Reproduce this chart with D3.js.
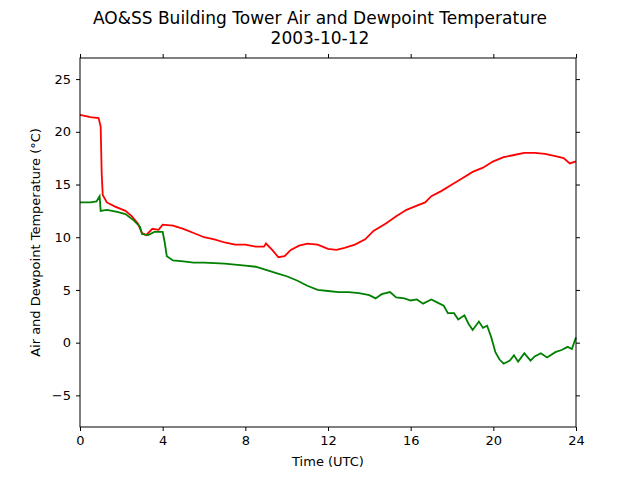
<!DOCTYPE html>
<html><head><meta charset="utf-8">
<script src="https://cdn.jsdelivr.net/npm/d3@7"></script>
<style>body{margin:0;background:#fff}text{font-family:"DejaVu Sans",sans-serif}</style>
</head><body><svg id="chart" width="640" height="480"></svg>
<script>
const airHours = [0,0.5,0.9,1.0,1.05,1.1,1.3,1.7,2.2,2.5,2.8,3.0,3.2,3.5,3.8,4.0,4.5,5.0,5.5,6.0,6.5,7.0,7.5,8.0,8.5,8.9,9.0,9.3,9.6,9.9,10.2,10.6,11.0,11.5,12.0,12.4,12.8,13.3,13.8,14.2,14.8,15.3,15.8,16.3,16.7,17.0,17.5,18.0,18.5,19.0,19.5,20.0,20.5,21.0,21.5,22.0,22.5,23.0,23.4,23.7,24];
const airTemp  = [21.6,21.4,21.3,20.5,16,14,13.3,12.9,12.5,12,11.3,10.4,10.2,10.8,10.7,11.2,11.1,10.8,10.4,10.0,9.8,9.5,9.3,9.3,9.1,9.1,9.4,8.8,8.1,8.2,8.8,9.2,9.4,9.3,8.9,8.8,9.0,9.3,9.8,10.6,11.3,12.0,12.6,13.0,13.3,13.9,14.4,15.0,15.6,16.2,16.6,17.2,17.6,17.8,18.0,18.0,17.9,17.7,17.5,17.0,17.2];
const dewHours = [0,0.5,0.8,0.95,1.0,1.3,1.8,2.2,2.6,2.9,3.0,3.3,3.6,4.0,4.1,4.2,4.5,5.0,5.5,6.0,7.0,7.5,8.0,8.5,9.0,9.5,10.0,10.5,11.0,11.5,12,12.5,13,13.5,14,14.3,14.6,15,15.3,15.7,16.0,16.3,16.6,17.0,17.3,17.6,17.8,18.1,18.3,18.6,18.8,19.0,19.3,19.5,19.7,19.9,20.1,20.3,20.5,20.8,21.0,21.2,21.5,21.8,22.0,22.3,22.6,23,23.3,23.6,23.8,24];
const dewTemp  = [13.3,13.3,13.4,13.9,12.5,12.6,12.4,12.2,11.6,11.0,10.3,10.2,10.5,10.5,9.5,8.2,7.8,7.7,7.6,7.6,7.5,7.4,7.3,7.2,6.9,6.6,6.3,5.9,5.4,5.0,4.9,4.8,4.8,4.7,4.5,4.2,4.6,4.8,4.3,4.2,4.0,4.1,3.7,4.1,3.8,3.5,2.8,2.8,2.2,2.6,1.8,1.2,2.0,1.4,1.6,0.5,-0.9,-1.6,-2.0,-1.7,-1.2,-1.8,-1.0,-1.7,-1.3,-1.0,-1.4,-0.9,-0.7,-0.4,-0.6,0.5];
const xTicks = [0,4,8,12,16,20,24];
const yTicks = [-5,0,5,10,15,20,25];

const margin = {top: 58, right: 64, bottom: 53, left: 80};
const width = 640 - margin.left - margin.right;
const height = 480 - margin.top - margin.bottom;

const svg = d3.select('#chart');
const chart = svg.append('g').attr('transform', `translate(${margin.left},${margin.top})`);

const x = d3.scaleLinear().domain([0, 24]).range([0, width]);
const y = d3.scaleLinear().domain([-8, 27]).range([height, 0]);

const fmt = d3.format('d');
const style = g => {
  g.select('.domain').remove();
  g.selectAll('text').attr('font-size', 13).attr('fill', '#000').style('font-family', '"DejaVu Sans",sans-serif');
  g.selectAll('line').attr('stroke', '#000');
};
chart.append('g').attr('transform', `translate(0,${height})`)
  .call(d3.axisBottom(x).tickValues(xTicks).tickFormat(fmt).tickSize(4).tickPadding(5)).call(style);
chart.append('g').call(d3.axisTop(x).tickValues(xTicks).tickFormat('').tickSize(4)).call(style);
chart.append('g')
  .call(d3.axisLeft(y).tickValues(yTicks).tickFormat(d => d < 0 ? '\u2212' + Math.abs(d) : d).tickSize(4).tickPadding(5)).call(style);
chart.append('g').attr('transform', `translate(${width},0)`)
  .call(d3.axisRight(y).tickValues(yTicks).tickFormat('').tickSize(4)).call(style);

const line = d3.line().x(d => x(d[0])).y(d => y(d[1]));
chart.append('path').datum(airHours.map((h, i) => [h, airTemp[i]]))
  .attr('d', line).attr('fill', 'none').attr('stroke', 'red').attr('stroke-width', 1.8);
chart.append('path').datum(dewHours.map((h, i) => [h, dewTemp[i]]))
  .attr('d', line).attr('fill', 'none').attr('stroke', 'green').attr('stroke-width', 1.8);

chart.append('rect').attr('width', width).attr('height', height)
  .attr('fill', 'none').attr('stroke', '#000').attr('stroke-width', 1);

svg.append('text').attr('x', 320).attr('y', 24).attr('text-anchor', 'middle').attr('font-size', 17)
  .text('AO&SS Building Tower Air and Dewpoint Temperature');
svg.append('text').attr('x', 320).attr('y', 44).attr('text-anchor', 'middle').attr('font-size', 17)
  .text('2003-10-12');
svg.append('text').attr('x', margin.left + width / 2).attr('y', 466).attr('text-anchor', 'middle').attr('font-size', 13)
  .text('Time (UTC)');
svg.append('text').attr('transform', `translate(40,${margin.top + height / 2}) rotate(-90)`)
  .attr('text-anchor', 'middle').attr('font-size', 13)
  .text('Air and Dewpoint Temperature (\u00b0C)');
</script></body></html>
